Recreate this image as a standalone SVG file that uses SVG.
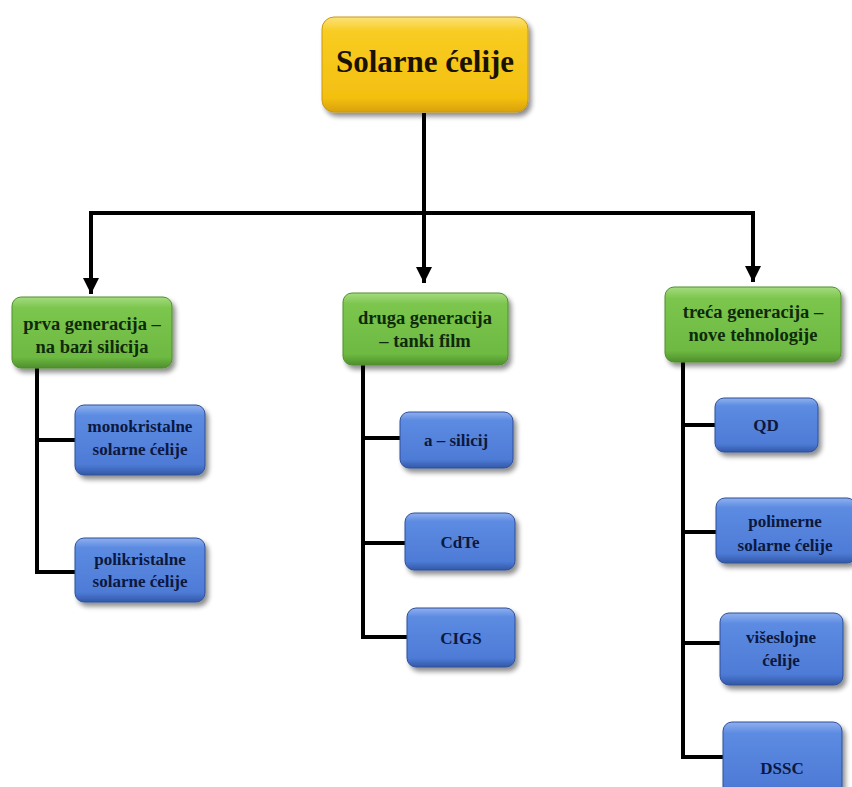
<svg xmlns="http://www.w3.org/2000/svg" width="852" height="787" viewBox="0 0 852 787">
<defs>
<linearGradient id="gy" x1="0" y1="0" x2="0" y2="1">
<stop offset="0" stop-color="#FBE27A"/><stop offset="0.15" stop-color="#F8CC22"/><stop offset="0.85" stop-color="#F3C010"/><stop offset="1" stop-color="#D9A10A"/>
</linearGradient>
<linearGradient id="gg" x1="0" y1="0" x2="0" y2="1">
<stop offset="0" stop-color="#A5DC80"/><stop offset="0.15" stop-color="#7CC64E"/><stop offset="0.85" stop-color="#6DB942"/><stop offset="1" stop-color="#4E8F2C"/>
</linearGradient>
<linearGradient id="gb" x1="0" y1="0" x2="0" y2="1">
<stop offset="0" stop-color="#8FB0EE"/><stop offset="0.15" stop-color="#5C8BE2"/><stop offset="0.85" stop-color="#4E7BD6"/><stop offset="1" stop-color="#3258A8"/>
</linearGradient>
<filter id="sh" x="-10%" y="-10%" width="125%" height="135%">
<feGaussianBlur in="SourceAlpha" stdDeviation="2.5"/>
<feOffset dx="3" dy="4" result="b"/>
<feComponentTransfer><feFuncA type="linear" slope="0.45"/></feComponentTransfer>
<feMerge><feMergeNode/><feMergeNode in="SourceGraphic"/></feMerge>
</filter>
<marker id="ar" viewBox="0 0 10 10" refX="10" refY="5" markerWidth="4" markerHeight="4" markerUnits="strokeWidth" orient="auto">
<path d="M0,0 L10,5 L0,10 z" fill="#000"/>
</marker>
</defs>
<style>
.y{fill:url(#gy);stroke:#C99A10;stroke-width:1;filter:url(#sh)}
.g{fill:url(#gg);stroke:#4E8F2C;stroke-width:1;filter:url(#sh)}
.b{fill:url(#gb);stroke:#2E4F99;stroke-width:1;filter:url(#sh)}
text{font-family:"Liberation Serif","Times New Roman",serif;font-weight:bold;text-anchor:middle}
.ty{font-size:31px;fill:#1a1200}
.tg{font-size:18.5px;fill:#0f2a08}
.tb{font-size:17px;fill:#0b1840}
.c{fill:none;stroke:#000;stroke-width:4}
</style>
<rect width="852" height="787" fill="#fff"/>
<g id="connectors">
<path class="c" d="M424,113 V283" marker-end="url(#ar)"/>
<path class="c" d="M424,213 H91 V294" marker-end="url(#ar)"/>
<path class="c" d="M424,213 H753 V282" marker-end="url(#ar)"/>
<path class="c" d="M37,368 V572 H76"/>
<path class="c" d="M37,440 H76"/>
<path class="c" d="M363,365 V637 H407"/>
<path class="c" d="M363,438 H400"/>
<path class="c" d="M363,543 H405"/>
<path class="c" d="M683,362 V757 H723"/>
<path class="c" d="M683,425 H715"/>
<path class="c" d="M683,532 H716"/>
<path class="c" d="M683,643 H720"/>
</g>
<g id="root"><rect class="y" x="322" y="17" width="206" height="95" rx="12"/><text class="ty" x="425" y="72">Solarne ćelije</text></g>
<g id="gen1"><rect class="g" x="12" y="297" width="160" height="71" rx="9"/><text class="tg" x="92" y="330">prva generacija –</text><text class="tg" x="92" y="353">na bazi silicija</text></g>
<g id="gen2"><rect class="g" x="343" y="293" width="165" height="72" rx="9"/><text class="tg" x="425" y="324">druga generacija</text><text class="tg" x="425" y="347">– tanki film</text></g>
<g id="gen3"><rect class="g" x="665" y="287" width="176" height="75" rx="9"/><text class="tg" x="753" y="318">treća generacija –</text><text class="tg" x="753" y="341">nove tehnologije</text></g>
<g id="mono"><rect class="b" x="75" y="405" width="130" height="70" rx="9"/><text class="tb" x="140" y="432">monokristalne</text><text class="tb" x="140" y="455">solarne ćelije</text></g>
<g id="poli"><rect class="b" x="75" y="538" width="130" height="64" rx="9"/><text class="tb" x="140" y="565">polikristalne</text><text class="tb" x="140" y="587">solarne ćelije</text></g>
<g id="asi"><rect class="b" x="400" y="412" width="113" height="56" rx="9"/><text class="tb" x="456" y="446">a – silicij</text></g>
<g id="cdte"><rect class="b" x="405" y="513" width="110" height="57" rx="9"/><text class="tb" x="460" y="548">CdTe</text></g>
<g id="cigs"><rect class="b" x="407" y="608" width="108" height="59" rx="9"/><text class="tb" x="461" y="644">CIGS</text></g>
<g id="qd"><rect class="b" x="715" y="398" width="103" height="54" rx="9"/><text class="tb" x="766" y="431">QD</text></g>
<g id="poly"><rect class="b" x="716" y="498" width="140" height="65" rx="9"/><text class="tb" x="785" y="527">polimerne</text><text class="tb" x="785" y="551">solarne ćelije</text></g>
<g id="multi"><rect class="b" x="720" y="613" width="123" height="72" rx="9"/><text class="tb" x="781" y="643">višeslojne</text><text class="tb" x="781" y="666">ćelije</text></g>
<g id="dssc"><rect class="b" x="723" y="722" width="119" height="75" rx="9"/><text class="tb" x="782" y="774">DSSC</text></g>
</svg>
